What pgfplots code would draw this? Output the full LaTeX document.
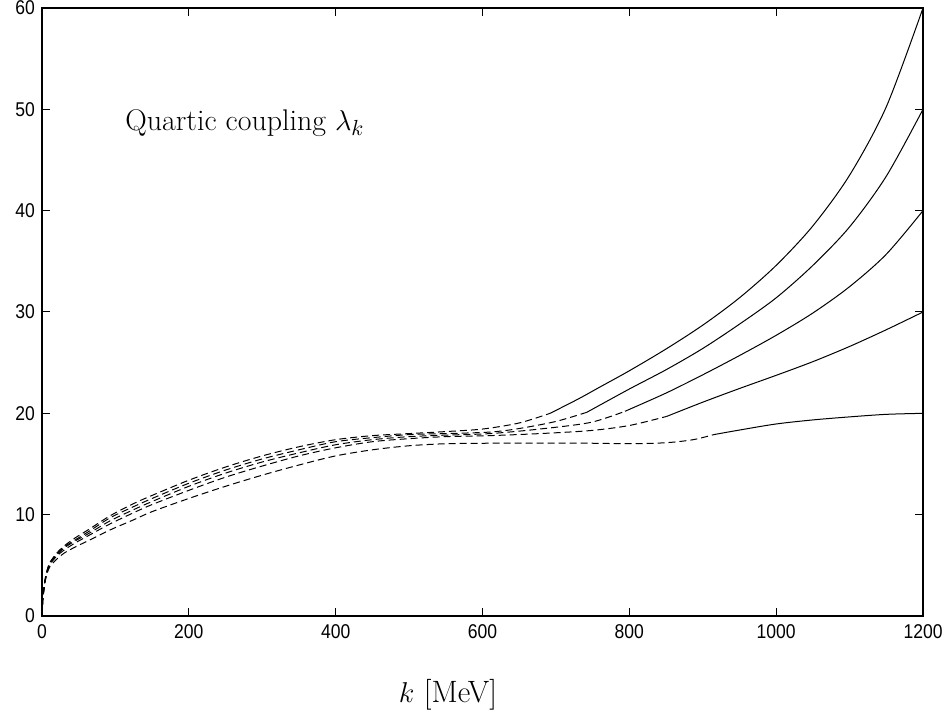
\documentclass[border=0pt]{standalone}
\usepackage{pgfplots}
\pgfplotsset{compat=1.18}
\usepackage{pgfplotstable}
\usepackage{fontspec}
\newfontfamily\ticksfont{Liberation Sans}

\pgfplotstableread{
k y
0 0
1 1.6
2 2.3
4 3.5
7 4.5
11 5.3
20 6.2
30 6.9
45 7.7
65 8.6
93 9.9
125 11.1
150 11.9
200 13.4
250 14.7
300 15.8
350 16.7
400 17.4
450 17.8
500 18.0
550 18.2
600 18.45
650 19.05
692 20.0
}\Adash
\pgfplotstableread{
k y
692 20.0
730 21.4
760 22.6
800 24.2
850 26.35
900 28.7
950 31.4
1000 34.6
1050 38.5
1100 43.5
1150 50.25
1200 60.0
}\Asolid
\pgfplotstableread{
k y
0 0
1 1.6
2 2.3
4 3.5
7 4.5
11 5.3
20 6.1
30 6.8
45 7.5
65 8.4
93 9.7
125 10.8
150 11.6
200 13.1
250 14.4
300 15.5
350 16.4
400 17.2
450 17.6
500 17.9
550 18.0
610 18.15
650 18.5
700 19.2
742 20.1
}\Bdash
\pgfplotstableread{
k y
742 20.1
800 22.4
850 24.3
900 26.4
950 28.8
1000 31.4
1050 34.6
1100 38.4
1150 43.4
1200 50.0
}\Bsolid
\pgfplotstableread{
k y
0 0
1 1.6
2 2.3
4 3.5
7 4.4
11 5.2
20 6.0
30 6.7
45 7.4
65 8.2
93 9.4
125 10.5
150 11.3
200 12.8
250 14.1
300 15.2
350 16.1
400 16.9
450 17.4
500 17.7
550 17.85
610 18.0
678 18.45
747 19.1
794 20.2
}\Cdash
\pgfplotstableread{
k y
794 20.2
850 22.0
900 23.8
950 25.7
1000 27.7
1050 29.9
1100 32.5
1150 35.7
1200 40.0
}\Csolid
\pgfplotstableread{
k y
0 0
1 1.6
2 2.3
4 3.4
7 4.3
11 5.1
20 5.9
30 6.5
45 7.2
65 8.0
93 9.1
125 10.2
150 11.0
200 12.4
250 13.7
300 14.8
350 15.8
400 16.6
450 17.2
500 17.5
550 17.7
610 17.8
678 18.0
747 18.3
800 18.8
851 19.7
}\Ddash
\pgfplotstableread{
k y
851 19.7
900 21.1
950 22.45
1000 23.75
1050 25.1
1100 26.6
1150 28.25
1200 30.0
}\Dsolid
\pgfplotstableread{
k y
0 0
1 1.5
2 2.2
4 3.3
7 4.2
11 4.9
20 5.6
30 6.2
45 6.8
65 7.5
93 8.5
125 9.5
150 10.3
200 11.6
250 12.8
300 13.9
350 14.9
400 15.8
450 16.4
500 16.8
550 17.0
610 17.05
678 17.05
747 17.05
800 17.0
850 17.1
887 17.4
915 17.9
}\Edash
\pgfplotstableread{
k y
915 17.9
950 18.35
1000 18.95
1050 19.35
1100 19.65
1150 19.9
1200 20.0
}\Esolid

\begin{document}
\begin{tikzpicture}
\begin{axis}[
  at={(0,0)}, anchor=south west,
  scale only axis, width=440.5bp, height=304bp,
  xmin=0, xmax=1200, ymin=0, ymax=60,
  xtick={0,200,...,1200}, ytick={0,10,...,60},
  tick align=inside, major tick length=4bp,
  tick style={black, line width=0.5bp},
  axis line style={line width=0.8bp},
  ticklabel style={font=\ticksfont\fontsize{10}{11}\selectfont},
  xticklabel={\scalebox{0.88}[1]{\pgfmathprintnumber[assume math mode=true,1000 sep={}]{\tick}}},
  yticklabel={\scalebox{0.88}[1]{\pgfmathprintnumber[assume math mode=true,1000 sep={}]{\tick}}},
  xticklabel style={yshift=-1bp},
  clip=true,
]
\addplot[black, line width=0.5bp, no markers, smooth, tension=0.5, dash pattern=on 3.5bp off 2bp] table[x=k,y=y] {\Adash};
\addplot[black, line width=0.5bp, no markers, smooth, tension=0.5, solid] table[x=k,y=y] {\Asolid};
\addplot[black, line width=0.5bp, no markers, smooth, tension=0.5, dash pattern=on 3.5bp off 2bp] table[x=k,y=y] {\Bdash};
\addplot[black, line width=0.5bp, no markers, smooth, tension=0.5, solid] table[x=k,y=y] {\Bsolid};
\addplot[black, line width=0.5bp, no markers, smooth, tension=0.5, dash pattern=on 3.5bp off 2bp] table[x=k,y=y] {\Cdash};
\addplot[black, line width=0.5bp, no markers, smooth, tension=0.5, solid] table[x=k,y=y] {\Csolid};
\addplot[black, line width=0.5bp, no markers, smooth, tension=0.5, dash pattern=on 3.5bp off 2bp] table[x=k,y=y] {\Ddash};
\addplot[black, line width=0.5bp, no markers, smooth, tension=0.5, solid] table[x=k,y=y] {\Dsolid};
\addplot[black, line width=0.5bp, no markers, smooth, tension=0.5, dash pattern=on 3.5bp off 2bp] table[x=k,y=y] {\Edash};
\addplot[black, line width=0.5bp, no markers, smooth, tension=0.5, solid] table[x=k,y=y] {\Esolid};
\end{axis}
\node[anchor=west, inner sep=0pt, font=\fontsize{15}{17}\selectfont] at (41.5bp,246.5bp) {Quartic coupling $\lambda_k$};
\node[anchor=center, inner sep=0pt, font=\fontsize{15.5}{18}\selectfont] at (203bp,-39.5bp) {$k$ [MeV]};
\pgfresetboundingbox
\path (-21bp,-48.5bp) rectangle (453bp,308bp);
\end{tikzpicture}
\end{document}
